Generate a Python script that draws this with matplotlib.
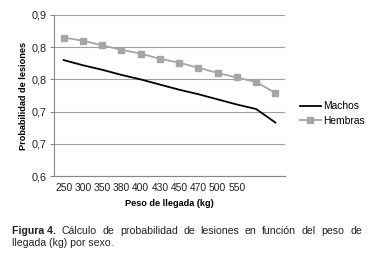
import numpy as np
import matplotlib
matplotlib.use("Agg")
import matplotlib.pyplot as plt

# data
pesos = ["250", "300", "350", "380", "400", "430", "450", "470", "500", "550", "", ""]
machos = [0.780, 0.772, 0.765, 0.757, 0.750, 0.742, 0.734, 0.727, 0.719, 0.711, 0.704, 0.683]
hembras = [0.815, 0.810, 0.803, 0.796, 0.790, 0.782, 0.776, 0.768, 0.760, 0.753, 0.746, 0.729]
yticks = [0.60, 0.65, 0.70, 0.75, 0.80, 0.85]
ytick_labels = ["0,6", "0,7", "0,7", "0,8", "0,8", "0,9"]

plt.rcParams["font.family"] = ["Liberation Sans", "DejaVu Sans"]

fig = plt.figure(figsize=(3.76, 2.62), dpi=100, facecolor="white")
ax = fig.add_axes([54/376., 1-176/262., 231/376., 161/262.])

x = np.arange(len(pesos))
ax.plot(x, machos, "-", color="black", lw=1.3, label="Machos")
ax.plot(x, hembras, "-s", color="#a6a6a6", lw=1.3, ms=4.2, label="Hembras")

ax.set_xlim(-0.5, len(pesos)-0.5)
ax.set_ylim(0.6, 0.85)
ax.set_yticks(yticks)
ax.set_yticklabels(ytick_labels)
ax.set_xticks(x)
ax.set_xticklabels(pesos)
ax.tick_params(axis="y", labelsize=7.8, length=3, color="#868686", pad=2, labelcolor="#222222")
ax.tick_params(axis="x", labelsize=7.4, length=0, pad=5, labelcolor="#222222")
ax.yaxis.grid(True, color="#a0a0a0", lw=0.8)
ax.set_axisbelow(True)
for s in ["top", "right"]:
    ax.spines[s].set_visible(False)
ax.spines["left"].set_color("#868686")
ax.spines["bottom"].set_color("#868686")

ax.set_ylabel("Probabilidad de lesiones", fontsize=6.6, fontweight="bold", labelpad=3)
ax.set_xlabel("Peso de llegada (kg)", fontsize=6.6, fontweight="bold", labelpad=4)

fig.legend(loc="upper left", bbox_to_anchor=(296/376., 1-97/262.), frameon=False,
           fontsize=7.4, handlelength=2.0, handletextpad=0.2, labelspacing=0.45,
           borderaxespad=0)

# caption, first line justified
cap1 = ["Figura 4.", "Cálculo", "de", "probabilidad", "de", "lesiones", "en", "función", "del", "peso", "de"]
x0, x1 = 12/376., 362/376.
y1 = 1-231/262.
fig.canvas.draw()
r = fig.canvas.get_renderer()
txts = []
for i, w in enumerate(cap1):
    t = fig.text(0, y1, w, fontsize=7.6, va="center", color="#222222",
                 fontweight="bold" if i == 0 else "normal")
    txts.append(t)
widths = [t.get_window_extent(r).width/fig.bbox.width for t in txts]
gap = (x1-x0-sum(widths))/(len(txts)-1)
pos = x0
for t, w in zip(txts, widths):
    t.set_x(pos)
    pos += w+gap
fig.text(x0, 1-243/262., "llegada (kg) por sexo.", fontsize=7.6, va="center", color="#222222")

fig.savefig("out.png", dpi=100)
